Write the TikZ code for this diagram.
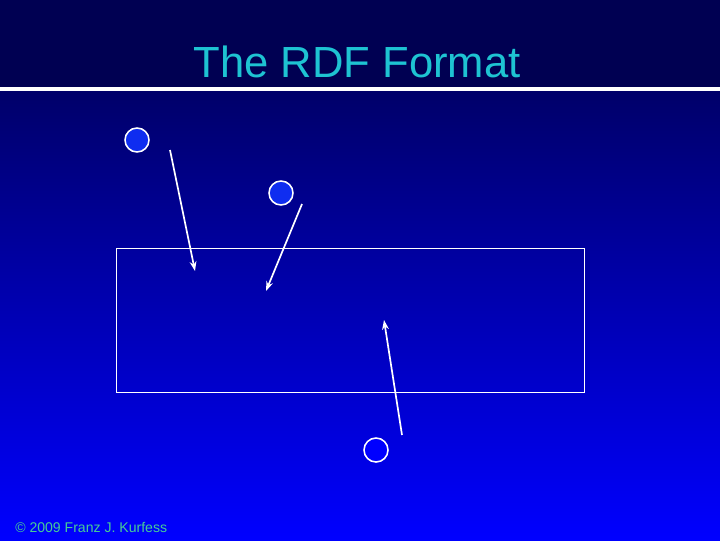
\documentclass[tikz,border=0pt]{standalone}
\usepackage{fontspec}
\setmainfont{Liberation Sans}
\usetikzlibrary{arrows.meta}
\definecolor{headblue}{RGB}{0,0,82}
\definecolor{topblue}{RGB}{0,0,105}
\definecolor{lowblue}{RGB}{0,0,255}
\definecolor{titlecyan}{RGB}{30,195,210}
\definecolor{footgreen}{RGB}{70,205,150}
\definecolor{dotblue}{RGB}{15,45,240}
\begin{document}
\begin{tikzpicture}[x=0.025cm, y=-0.025cm,
  dot/.style = {draw=white, line width=1.1pt, circle, fill=dotblue, minimum size=0.6cm, inner sep=0pt},
  link/.style = {draw=white, line width=1.2pt, -{Stealth[length=2.4mm,width=1.7mm]}}]
\useasboundingbox (0,0) rectangle (720,540);
% background
\shade[top color=topblue, bottom color=lowblue] (0,90) rectangle (720,540);
\fill[headblue] (0,0) rectangle (720,89);
\draw[white, line width=2.2pt] (0,89) -- (720,89);
% title and footer
\node[anchor=base, text=titlecyan, font=\fontsize{31}{36}\selectfont] (title) at (357,77) {The RDF Format};
\node[anchor=base west, text=footgreen, font=\fontsize{10}{12}\selectfont, inner sep=0pt] (foot) at (15,532) {\textcopyright{} 2009 Franz J. Kurfess};
% box
\node[draw=white, line width=0.7pt, minimum width=11.675cm, minimum height=3.575cm, inner sep=0pt] (box) at (350.5,320.5) {};
% circles
\node[dot] (c1) at (137,140) {};
\node[dot] (c2) at (281,193) {};
\node[dot, fill=lowblue] (c3) at (376,450) {};
% arrow ends
\coordinate (s1) at (170,150);
\coordinate (e1) at (195,271);
\coordinate (s2) at (302,204);
\coordinate (e2) at (266,291);
\coordinate (s3) at (402,435);
\coordinate (e3) at (384,320);
\draw[link] (s1) -- (e1);
\draw[link] (s2) -- (e2);
\draw[link] (s3) -- (e3);
\end{tikzpicture}
\end{document}
